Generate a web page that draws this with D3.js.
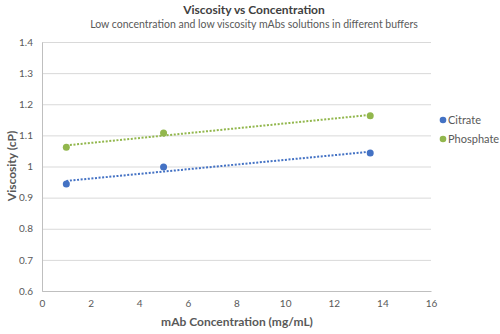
<!DOCTYPE html>
<html lang="en">
<head>
    <meta charset="utf-8">
    <title>Viscosity vs Concentration</title>
    <script src="https://d3js.org/d3.v7.min.js"></script>
    <style type="text/css">
        body {
            margin: 0;
            background: white;
        }
        text {
            font-family: Lato, "Open Sans", sans-serif;
        }
        .tick text {
            fill: #595959;
            font-size: 10px;
        }
        .grid line {
            stroke: #d9d9d9;
        }
        .trend {
            fill: none;
            stroke-width: 2px;
            stroke-dasharray: 2 1.6;
        }
    </style>
</head>
<body>
    <script type="text/javascript">

        const w = 500; // Width
        const h = 334; // Height
        const margin = {top: 42, right: 69, bottom: 43, left: 42};

        // Data
        const seriesNames = ["Citrate", "Phosphate"];
        const seriesColors = ["#4472c4", "#92b74d"];
        const concentration = [1, 5, 13.5];
        const citrate = [0.944, 0.998, 1.043];
        const phosphate = [1.062, 1.108, 1.163];
        const xTicks = [0, 2, 4, 6, 8, 10, 12, 14, 16];
        const yTicks = [0.6, 0.7, 0.8, 0.9, 1, 1.1, 1.2, 1.3, 1.4];

        const series = [citrate, phosphate].map((vals, i) => ({
            name: seriesNames[i],
            color: seriesColors[i],
            points: vals.map((v, j) => ({x: concentration[j], y: v}))
        }));

        // least squares line through a series
        function linearFit(points) {
            const mx = d3.mean(points, p => p.x);
            const my = d3.mean(points, p => p.y);
            const sxy = d3.sum(points, p => (p.x - mx) * (p.y - my));
            const sxx = d3.sum(points, p => (p.x - mx) * (p.x - mx));
            const slope = sxy / sxx;
            return x => my + slope * (x - mx);
        }

        // Scales
        const xScale = d3.scaleLinear()
            .domain([0, 16])
            .range([margin.left, w - margin.right]);

        const yScale = d3.scaleLinear()
            .domain([0.6, 1.4])
            .range([h - margin.bottom, margin.top]);

        // SVG element
        const svg = d3.select("body")
            .append("svg")
            .attr("width", w)
            .attr("height", h);

        // Horizontal gridlines
        svg.append("g")
            .attr("class", "grid")
            .attr("transform", "translate(" + margin.left + ",0)")
            .call(d3.axisLeft(yScale)
                .tickValues(yTicks)
                .tickSize(-(w - margin.left - margin.right))
                .tickFormat(""))
            .call(g => g.select(".domain").remove());

        // Axes
        const leftAxis = d3.axisLeft(yScale)
            .tickValues(yTicks)
            .tickSize(0)
            .tickPadding(9)
            .tickFormat(d3.format("~g"));

        svg.append("g")
            .attr("class", "axis")
            .attr("transform", "translate(" + margin.left + ",0)")
            .call(leftAxis)
            .call(g => g.select(".domain").attr("stroke", "#bfbfbf"));

        const bottomAxis = d3.axisBottom(xScale)
            .tickValues(xTicks)
            .tickSize(0)
            .tickPadding(9);

        svg.append("g")
            .attr("class", "axis")
            .attr("transform", "translate(0," + (h - margin.bottom) + ")")
            .call(bottomAxis)
            .call(g => g.select(".domain").attr("stroke", "#bfbfbf"));

        // Trendlines
        series.forEach(s => {
            const fit = linearFit(s.points);
            const ext = d3.extent(s.points, p => p.x);
            svg.append("path")
                .attr("class", "trend")
                .attr("stroke", s.color)
                .attr("d", d3.line()
                    .x(d => xScale(d))
                    .y(d => yScale(fit(d)))(ext));
        });

        // Markers
        series.forEach(s => {
            svg.append("g")
                .selectAll("circle")
                .data(s.points)
                .join("circle")
                .attr("cx", d => xScale(d.x))
                .attr("cy", d => yScale(d.y))
                .attr("r", 3.5)
                .attr("fill", s.color);
        });

        // Legend
        const legend = svg.append("g")
            .attr("transform", "translate(443,120)");

        legend.selectAll("g")
            .data(series)
            .join("g")
            .attr("transform", (d, i) => "translate(0," + (i * 19) + ")")
            .call(g => g.append("circle")
                .attr("r", 3.3)
                .attr("fill", d => d.color))
            .call(g => g.append("text")
                .attr("x", 5)
                .attr("dy", "0.35em")
                .attr("font-size", "11px")
                .attr("fill", "#595959")
                .text(d => d.name));

        // Chart labels
        svg.append("text")
            .attr("x", 254)
            .attr("y", 14)
            .attr("text-anchor", "middle")
            .attr("font-size", "12px")
            .attr("font-weight", "bold")
            .attr("fill", "#404040")
            .text("Viscosity vs Concentration");

        svg.append("text")
            .attr("x", 254)
            .attr("y", 28)
            .attr("text-anchor", "middle")
            .attr("font-size", "10.5px")
            .attr("fill", "#595959")
            .text("Low concentration and low viscosity mAbs solutions in different buffers");

        svg.append("text")
            .attr("x", 237)
            .attr("y", 326)
            .attr("text-anchor", "middle")
            .attr("font-size", "12px")
            .attr("font-weight", "bold")
            .attr("fill", "#595959")
            .text("mAb Concentration (mg/mL)");

        svg.append("text")
            .attr("transform", "translate(16,166) rotate(-90)")
            .attr("text-anchor", "middle")
            .attr("font-size", "12px")
            .attr("font-weight", "bold")
            .attr("fill", "#595959")
            .text("Viscosity (cP)");

    </script>
</body>
</html>
